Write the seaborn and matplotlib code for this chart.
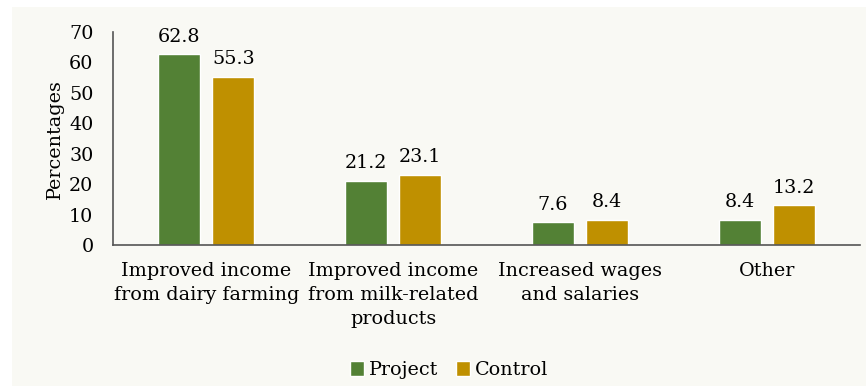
import matplotlib
matplotlib.use("Agg")
import matplotlib.pyplot as plt
from matplotlib.patches import Rectangle
import seaborn as sns
import pandas as pd

categories = ["Improved income\nfrom dairy farming",
              "Improved income\nfrom milk-related\nproducts",
              "Increased wages\nand salaries",
              "Other"]
project = [62.8, 21.2, 7.6, 8.4]
control = [55.3, 23.1, 8.4, 13.2]
groups = ["Project", "Control"]
colors = ["#538135", "#BF9000"]
yticks = [0, 10, 20, 30, 40, 50, 60, 70]

sns.set_theme(style="white")
plt.rcParams["font.family"] = ["DejaVu Serif"]

df = pd.DataFrame({
    "category": categories * 2,
    "group": [groups[0]] * 4 + [groups[1]] * 4,
    "value": project + control,
})

bg = "#F9F9F4"
fs = 13.8
W, H = 868, 386
fig = plt.figure(figsize=(8.68, 3.86), dpi=100, facecolor="white")
fig.patches.append(Rectangle((12 / W, 0), (866 - 12) / W, (H - 7) / H,
                             transform=fig.transFigure, facecolor=bg,
                             edgecolor="none", zorder=-10))
ax = fig.add_axes([0.130, 0.365, 0.861, 0.552])
ax.set_facecolor(bg)

sns.barplot(data=df, x="category", y="value", hue="group", order=categories,
            hue_order=groups, palette=colors, width=0.58, gap=0.22,
            saturation=1, ax=ax, legend=True)

for cont in ax.containers:
    ax.bar_label(cont, fmt="%.1f", padding=6, fontsize=fs, color="black")

ax.set_ylim(0, 70)
ax.set_yticks(yticks)
ax.set_yticklabels([str(t) for t in yticks], fontsize=fs, color="black")
ax.set_xlabel("")
ax.set_ylabel("Percentages", fontsize=fs, labelpad=4, color="black")
ax.tick_params(axis="x", labelsize=fs, length=0, pad=12, labelcolor="black")
ax.tick_params(axis="y", length=0, pad=14)
for lab in ax.get_xticklabels():
    lab.set_linespacing(1.45)
ax.set_xlim(-0.5, 3.5)

for s in ["top", "right"]:
    ax.spines[s].set_visible(False)
for s in ["left", "bottom"]:
    ax.spines[s].set_color("#555555")
    ax.spines[s].set_linewidth(1.2)

leg = ax.legend(loc="center", bbox_to_anchor=(0.45, -0.587), ncol=2,
                frameon=False, fontsize=fs, handlelength=0.75, handleheight=0.75,
                handletextpad=0.25, columnspacing=0.9)
for t in leg.get_texts():
    t.set_color("black")

fig.savefig("out.png", dpi=100, facecolor="white")
